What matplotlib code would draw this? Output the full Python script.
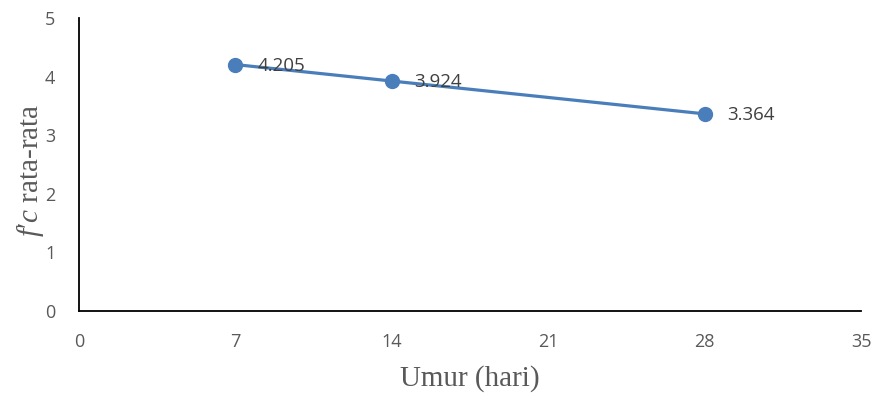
import matplotlib
matplotlib.use("Agg")
import matplotlib.pyplot as plt

# umur benda uji (hari) dan kuat tekan rata-rata
umur = [7, 14, 28]
fc_rata = [4.205, 3.924, 3.364]
x_ticks = [0, 7, 14, 21, 28, 35]
y_ticks = [0, 1, 2, 3, 4, 5]

plt.rcParams['mathtext.fontset'] = 'custom'
plt.rcParams['mathtext.rm'] = 'Liberation Serif'
plt.rcParams['mathtext.it'] = 'Liberation Serif:italic'

fig = plt.figure(figsize=(8.75, 3.97), dpi=100)
ax = fig.add_axes([0.0903, 0.2166, 0.8937, 0.7381])

ax.plot(umur, fc_rata, color='#4A7EBB', linewidth=2.3, marker='o',
        markersize=10, zorder=3)
for x, y in zip(umur, fc_rata):
    ax.annotate(f"{y:.3f}", (x, y), xytext=(16, -1), textcoords='offset points',
                ha='left', va='center', fontsize=13.5, color='#404040',
                family='Open Sans')

ax.set_xlim(0, 35)
ax.set_ylim(0, 5)
ax.set_xticks(x_ticks)
ax.set_yticks(y_ticks)
ax.tick_params(length=0, labelsize=13, labelcolor='#595959')
ax.tick_params(axis='x', pad=16)
ax.tick_params(axis='y', pad=17)
for lbl in ax.get_xticklabels() + ax.get_yticklabels():
    lbl.set_family('Open Sans')
for s in ['top', 'right']:
    ax.spines[s].set_visible(False)
for s in ['left', 'bottom']:
    ax.spines[s].set_color('black')
    ax.spines[s].set_linewidth(1.3)

ax.set_xlabel("Umur (hari)", family='Liberation Serif', fontsize=21,
              color='#595959')
ax.set_ylabel("$f$′$c$ rata-rata", family='Liberation Serif', fontsize=21,
              color='#595959')
ax.xaxis.set_label_coords(0.5, -0.185)
ax.yaxis.set_label_coords(-0.042, 0.48)

fig.savefig("out.png", dpi=100)
